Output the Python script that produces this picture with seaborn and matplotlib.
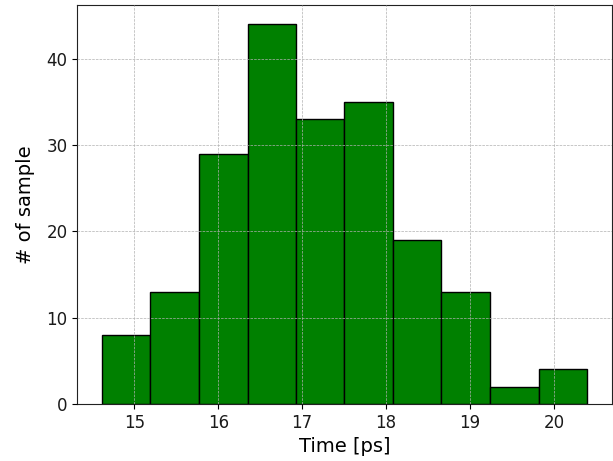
import numpy as np
import pandas as pd
import matplotlib
matplotlib.use("Agg")
import matplotlib.pyplot as plt
import seaborn as sns

# histogram counts
bin_edges = [14.61, 15.19, 15.77, 16.35, 16.93, 17.50, 18.08, 18.66, 19.24, 19.82, 20.40]
counts = [8, 13, 29, 44, 33, 35, 19, 13, 2, 4]

centers = [(a + b) / 2 for a, b in zip(bin_edges[:-1], bin_edges[1:])]
df = pd.DataFrame({"time": centers, "n": counts})

sns.set_style("ticks")
plt.rcParams["font.family"] = ["DejaVu Sans"]
plt.rcParams["text.color"] = "black"
plt.rcParams["axes.labelcolor"] = "black"

fig, ax = plt.subplots(figsize=(6.13, 4.61), dpi=100)
fig.subplots_adjust(left=0.126, right=0.998, top=0.989, bottom=0.124)

sns.histplot(data=df, x="time", weights="n", bins=bin_edges, ax=ax,
             color="green", edgecolor="black", linewidth=1.0, alpha=1.0)

ax.set_axisbelow(False)
ax.grid(True, linestyle="--", linewidth=0.5, color="#b0b0b0")
ax.set_xticks([15, 16, 17, 18, 19, 20])
ax.set_yticks([0, 10, 20, 30, 40])
ax.tick_params(labelsize=12, direction="out", length=3.5, colors="black",
               labelcolor="#1a1a1a")
ax.set_xlabel("Time [ps]", fontsize=14)
ax.set_ylabel("# of sample", fontsize=14, labelpad=8)
for s in ax.spines.values():
    s.set_visible(True)
    s.set_color("#222222")

fig.savefig("out.png", dpi=100)
